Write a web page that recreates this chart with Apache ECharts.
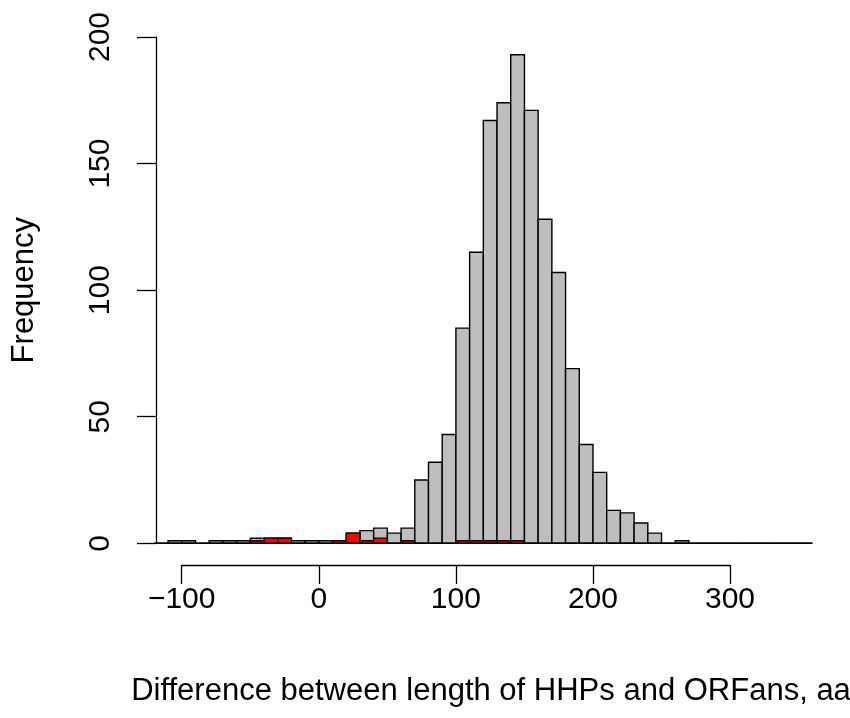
<!DOCTYPE html>
<html><head><meta charset="utf-8">
<script src="https://cdn.jsdelivr.net/npm/echarts@6/dist/echarts.min.js"></script>
<style>html,body{margin:0;padding:0;background:#fff}#c{width:850px;height:718px}</style>
</head><body><div id="c"></div>
<script>
// Histogram bin edges (width 10)
const binEdges = [-120,-110,-100,-90,-80,-70,-60,-50,-40,-30,-20,-10,0,10,20,30,40,50,60,70,80,90,100,110,120,130,140,150,160,170,180,190,200,210,220,230,240,250,260,270,280,290,300,310,320,330,340,350,360];
// All differences (grey)
const grayCounts = [0,1,1,0,1,1,1,2,2,2,1,1,1,1,4,5,6,4,6,25,32,43,85,115,167,174,193,171,128,107,69,39,28,13,12,8,4,0,1,0,0,0,0,0,0,0,0,0];
// Subset (red)
const redCounts  = [0,0,0,0,0,0,0,1,2,2,0,0,0,1,4,1,2,0,1,0,0,0,1,1,1,1,1,0,0,0,0,0,0,0,0,0,0,0,0,0,0,0,0,0,0,0,0,0];
const xTicks = [-100,0,100,200,300];
const yTicks = [0,50,100,150,200];
const xLabel = 'Difference between length of HHPs and ORFans, aa';
const yLabel = 'Frequency';

function bins(counts){
  const out = [];
  for (let i = 0; i < counts.length; i++) out.push([binEdges[i], binEdges[i+1], counts[i]]);
  return out;
}
function renderRect(fill){
  return function(params, api){
    const p1 = api.coord([api.value(0), api.value(2)]);
    const p2 = api.coord([api.value(1), 0]);
    return {
      type: 'rect',
      shape: {x: p1[0], y: p1[1], width: p2[0]-p1[0], height: p2[1]-p1[1]},
      style: {fill: fill, stroke: '#000', lineWidth: 1.4}
    };
  };
}
const FONT = 'Liberation Sans, Arial, sans-serif';
const chart = echarts.init(document.getElementById('c'), null, {renderer: 'canvas'});
chart.setOption({
  animation: false,
  backgroundColor: '#fff',
  grid: [
    {left: 156, right: 24, top: 37, bottom: 174.7, containLabel: false, outerBoundsMode: 'none'},
    {left: 181.7, right: 120, top: 37, bottom: 174.7, containLabel: false, outerBoundsMode: 'none'}
  ],
  xAxis: [
    {gridIndex: 0, type: 'value', min: -118.8, max: 370,
     axisLine: {show: false}, axisTick: {show: false}, axisLabel: {show: false}, splitLine: {show: false},
     name: xLabel, nameLocation: 'middle', nameGap: 133,
     nameTextStyle: {fontSize: 31, fontFamily: FONT, color: '#000'}},
    {gridIndex: 1, type: 'value', min: xTicks[0], max: xTicks[xTicks.length-1], interval: 100, offset: 21.7,
     axisLine: {show: true, onZero: false, lineStyle: {color: '#000', width: 1.3}},
     axisTick: {show: true, inside: false, length: 19, lineStyle: {color: '#000', width: 1.3}},
     axisLabel: {show: true, margin: 20, fontSize: 30, fontFamily: FONT, color: '#000',
       formatter: v => xTicks.includes(v) ? String(v).replace('-', '\u2212') : ''},
     splitLine: {show: false}}
  ],
  yAxis: [
    {gridIndex: 0, type: 'value', min: yTicks[0], max: yTicks[yTicks.length-1], interval: 50,
     axisLine: {show: true, onZero: false, lineStyle: {color: '#000', width: 1.3}},
     axisTick: {show: true, inside: false, length: 19, lineStyle: {color: '#000', width: 1.3}},
     axisLabel: {show: true, rotate: 90, margin: 40, fontSize: 30, fontFamily: FONT, color: '#000'},
     splitLine: {show: false},
     name: yLabel, nameLocation: 'middle', nameGap: 116,
     nameTextStyle: {fontSize: 31, fontFamily: FONT, color: '#000'}},
    {gridIndex: 1, type: 'value', min: 0, max: 200, show: false}
  ],
  series: [
    {type: 'custom', xAxisIndex: 0, yAxisIndex: 0, renderItem: renderRect('#bebebe'),
     encode: {x: [0,1], y: 2}, data: bins(grayCounts), clip: false},
    {type: 'custom', xAxisIndex: 0, yAxisIndex: 0, renderItem: renderRect('#ff0000'),
     encode: {x: [0,1], y: 2}, data: bins(redCounts), clip: false}
  ]
});
</script>
</body></html>
